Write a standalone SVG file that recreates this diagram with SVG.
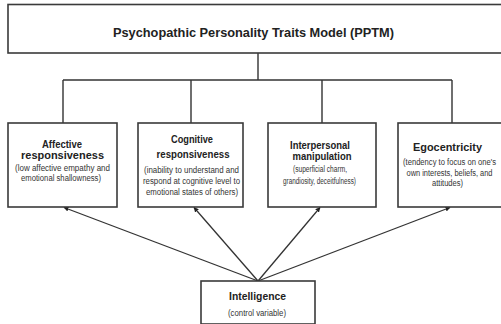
<svg xmlns="http://www.w3.org/2000/svg" width="501" height="324" viewBox="0 0 501 324">
<defs>
<style>
.box{fill:#fff;stroke:#3a3a3a;stroke-width:1.6}
.ln{fill:none;stroke:#333;stroke-width:1.4}
.ar{fill:none;stroke:#333;stroke-width:1.3;marker-end:url(#ah)}
.t{font-family:"Liberation Sans",Arial,sans-serif;fill:#222;text-anchor:middle}
.h{font-weight:bold;font-size:11px}
.s{font-size:8.5px;fill:#333}
.title{font-weight:bold;font-size:13px}
</style>
<marker id="ah" viewBox="0 0 10 10" refX="9" refY="5" markerWidth="5" markerHeight="5" orient="auto" markerUnits="userSpaceOnUse">
<path d="M0,0 L10,5 L0,10 z" fill="#222"/>
</marker>
</defs>
<rect width="501" height="324" fill="#fff"/>
<g id="connectors">
<path class="ln" d="M258,53 V80 M63,80 H452 M63,80 V123 M191,80 V123 M322,80 V123 M452,80 V123"/>
<line class="ar" x1="258" y1="281" x2="64" y2="207.5"/>
<line class="ar" x1="258" y1="281" x2="194" y2="207.5"/>
<line class="ar" x1="258" y1="281" x2="320" y2="207.5"/>
<line class="ar" x1="258" y1="281" x2="450" y2="207.5"/>
</g>
<g id="pptm">
<rect class="box" x="8" y="4.5" width="495" height="48.5"/>
<text class="t title" x="253.5" y="37" textLength="281" lengthAdjust="spacingAndGlyphs">Psychopathic Personality Traits Model (PPTM)</text>
</g>
<g id="affective">
<rect class="box" x="8" y="123" width="109" height="84"/>
<text class="t h" x="62" y="148" textLength="40" lengthAdjust="spacingAndGlyphs">Affective</text>
<text class="t h" x="62.5" y="159" textLength="83" lengthAdjust="spacingAndGlyphs">responsiveness</text>
<text class="t s" x="62.5" y="171" textLength="95" lengthAdjust="spacingAndGlyphs">(low affective empathy and</text>
<text class="t s" x="61" y="180.5" textLength="80" lengthAdjust="spacingAndGlyphs">emotional shallowness)</text>
</g>
<g id="cognitive">
<rect class="box" x="138" y="123" width="105" height="84"/>
<text class="t h" x="192" y="143" textLength="42" lengthAdjust="spacingAndGlyphs">Cognitive</text>
<text class="t h" x="193" y="158" textLength="73" lengthAdjust="spacingAndGlyphs">responsiveness</text>
<text class="t s" x="191.5" y="173" textLength="95" lengthAdjust="spacingAndGlyphs">(inability to understand and</text>
<text class="t s" x="191.5" y="184" textLength="97" lengthAdjust="spacingAndGlyphs">respond at cognitive level to</text>
<text class="t s" x="192" y="195" textLength="92" lengthAdjust="spacingAndGlyphs">emotional states of others)</text>
</g>
<g id="interpersonal">
<rect class="box" x="268" y="123" width="108" height="84"/>
<text class="t h" x="320" y="149" textLength="60" lengthAdjust="spacingAndGlyphs">Interpersonal</text>
<text class="t h" x="322" y="160" textLength="59" lengthAdjust="spacingAndGlyphs">manipulation</text>
<text class="t s" x="320" y="172" textLength="54" lengthAdjust="spacingAndGlyphs">(superficial charm,</text>
<text class="t s" x="319.5" y="184" textLength="73" lengthAdjust="spacingAndGlyphs">grandiosity, deceitfulness)</text>
</g>
<g id="egocentricity">
<rect class="box" x="398" y="123" width="105" height="84"/>
<text class="t h" x="447.5" y="151" textLength="69" lengthAdjust="spacingAndGlyphs">Egocentricity</text>
<text class="t s" x="449.5" y="164.5" textLength="93" lengthAdjust="spacingAndGlyphs">(tendency to focus on one's</text>
<text class="t s" x="449.5" y="175.5" textLength="86" lengthAdjust="spacingAndGlyphs">own interests, beliefs, and</text>
<text class="t s" x="447.5" y="186" textLength="31" lengthAdjust="spacingAndGlyphs">attitudes)</text>
</g>
<g id="intelligence">
<rect class="box" x="201" y="281" width="114" height="43"/>
<text class="t h" x="257.5" y="300" textLength="57" lengthAdjust="spacingAndGlyphs">Intelligence</text>
<text class="t s" x="257" y="316" textLength="58" lengthAdjust="spacingAndGlyphs">(control variable)</text>
</g>
</svg>
